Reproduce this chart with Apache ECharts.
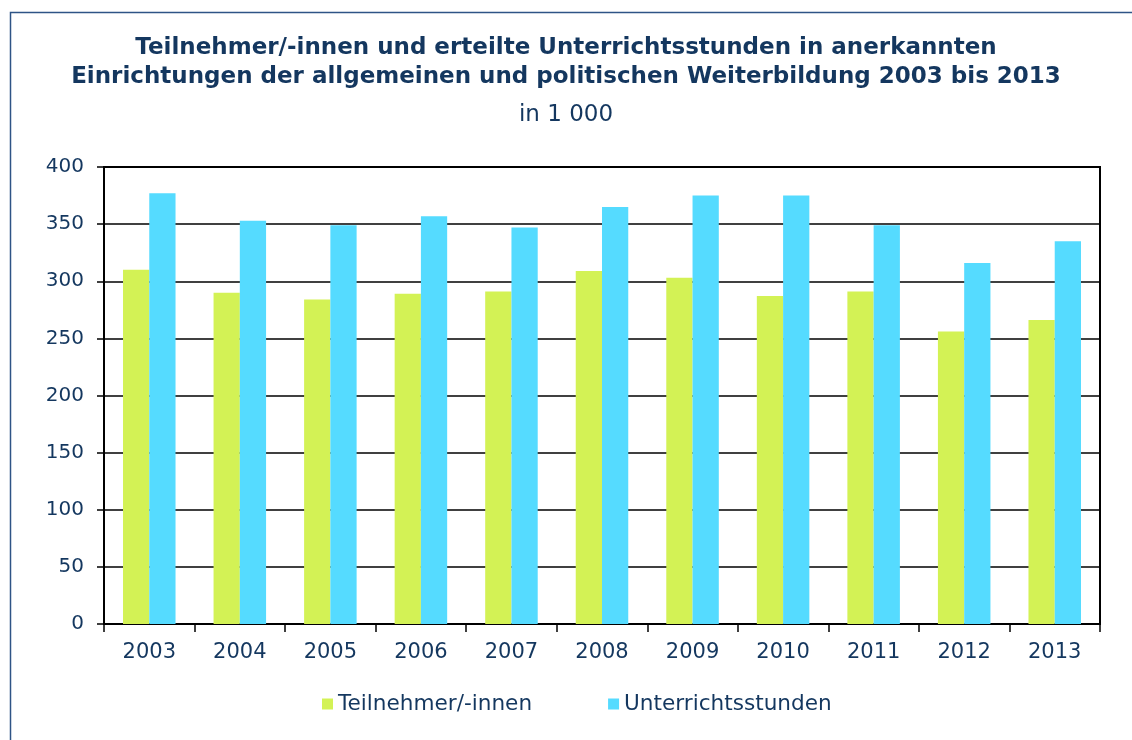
<!DOCTYPE html>
<html><head><meta charset="utf-8">
<script src="https://cdn.jsdelivr.net/npm/echarts@6/dist/echarts.min.js"></script>
<style>html,body{margin:0;padding:0;background:#fff}#c{width:1132px;height:740px}</style>
</head><body><div id="c"></div>
<script>
const years = ['2003','2004','2005','2006','2007','2008','2009','2010','2011','2012','2013'];
const teilnehmer = [310, 290, 284, 289, 291, 309, 303, 287, 291, 256, 266];
const stunden = [377, 353, 349, 357, 347, 365, 375, 375, 349, 316, 335];
const yTicks = [0, 50, 100, 150, 200, 250, 300, 350, 400];
const titleLines = ['Teilnehmer/-innen und erteilte Unterrichtsstunden in anerkannten','Einrichtungen der allgemeinen und politischen Weiterbildung 2003 bis 2013'];
const subtitle = 'in 1 000';
const seriesNames = ['Teilnehmer/-innen','Unterrichtsstunden'];

const navy = '#14375F';
const font = 'DejaVu Sans, Verdana, sans-serif';
const chart = echarts.init(document.getElementById('c'));
chart.setOption({
  animation: false,
  backgroundColor: '#fff',
  graphic: [{
    type: 'rect', left: 8, top: 10, shape: {width: 1200, height: 800},
    style: {fill: 'none', stroke: '#2E5486', lineWidth: 1.5}, silent: true
  }],
  title: [{
    text: titleLines.join('\n'), left: 'center', top: 29,
    textStyle: {fontFamily: font, fontSize: 23, fontWeight: 'bold', color: navy, lineHeight: 29}
  }, {
    text: subtitle, left: 'center', top: 99,
    textStyle: {fontFamily: font, fontSize: 23, fontWeight: 'normal', color: navy}
  }],
  legend: {
    bottom: 20, left: 317, itemWidth: 11, itemHeight: 11, itemGap: 76,
    icon: 'rect',
    textStyle: {fontFamily: font, fontSize: 21.6, color: navy},
    data: seriesNames
  },
  grid: {left: 104, right: 32, top: 167, bottom: 116, show: true, borderColor: '#000', borderWidth: 2, backgroundColor: 'transparent'},
  xAxis: {
    type: 'category', data: years,
    axisLine: {lineStyle: {color: '#000', width: 2}},
    axisTick: {show: true, alignWithLabel: false, length: 8, lineStyle: {color: '#000', width: 1.5}},
    axisLabel: {fontFamily: font, fontSize: 21, color: navy, margin: 18}
  },
  yAxis: {
    type: 'value', min: yTicks[0], max: yTicks[yTicks.length-1], interval: 50,
    axisLine: {show: true, lineStyle: {color: '#000', width: 2}},
    axisTick: {show: true, length: 7, lineStyle: {color: '#000', width: 1.5}},
    splitLine: {lineStyle: {color: '#000', width: 1.5}},
    axisLabel: {fontFamily: font, fontSize: 20, color: navy, margin: 20}
  },
  series: [{
    name: seriesNames[0], type: 'bar', data: teilnehmer, barGap: '0%', barCategoryGap: '42%',
    itemStyle: {color: '#D3F255'}
  }, {
    name: seriesNames[1], type: 'bar', data: stunden, barGap: '0%', barCategoryGap: '42%',
    itemStyle: {color: '#55DBFF'}
  }]
});
</script></body></html>
